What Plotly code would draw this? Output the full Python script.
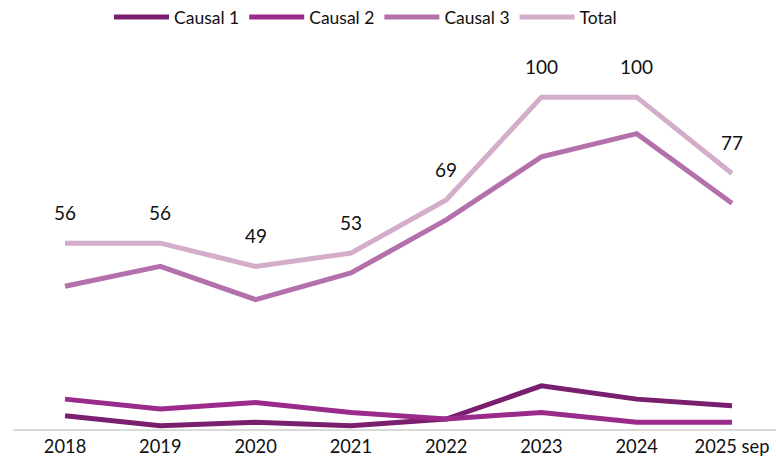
import plotly.graph_objects as go

years = ["2018", "2019", "2020", "2021", "2022", "2023", "2024", "2025 sep"]
causal1 = [4, 1, 2, 1, 3, 13, 9, 7]
causal2 = [9, 6, 8, 5, 3, 5, 2, 2]
causal3 = [43, 49, 39, 47, 63, 82, 89, 68]
total = [56, 56, 49, 53, 69, 100, 100, 77]

FONT = "Lato, sans-serif"

fig = go.Figure()
series = [
    ("Causal 1", causal1, "#7A1F6F"),
    ("Causal 2", causal2, "#9A2B8B"),
    ("Causal 3", causal3, "#B470AA"),
    ("Total", total, "#D3ADC9"),
]
for name, vals, col in series:
    fig.add_trace(go.Scatter(x=list(range(len(years))), y=vals, name=name, mode="lines",
                             line=dict(color=col, width=5)))

for i, v in enumerate(total):
    fig.add_annotation(x=i, y=v, text=str(v), showarrow=False, yshift=31,
                       font=dict(family=FONT, size=19, color="#111111"))

fig.update_layout(
    width=776, height=469,
    margin=dict(l=13, r=0, t=50, b=40, autoexpand=False),
    paper_bgcolor="white", plot_bgcolor="white",
    font=dict(family=FONT, size=19, color="#111111"),
    showlegend=True,
    legend=dict(orientation="h", x=(109 - 13) / 763, xanchor="left",
                yref="container", y=1 - 17 / 469, yanchor="middle",
                font=dict(family=FONT, size=17.5), itemwidth=55,
                bgcolor="rgba(0,0,0,0)"),
    xaxis=dict(range=[-0.546, 7.462], showgrid=False, showline=True, zeroline=False,
               tickmode="array", tickvals=list(range(len(years))), ticktext=years,
               linecolor="#D9D9D9", linewidth=2, ticks="", ticklen=0, automargin=False,
               tickfont=dict(family=FONT, size=18.3)),
    yaxis=dict(range=[0, 114.2], showgrid=False, zeroline=False, showticklabels=False,
               showline=False, automargin=False),
)

fig.write_html("out.html", config={"displayModeBar": False},
               post_script="document.body.style.margin='0';document.body.style.padding='0';")
